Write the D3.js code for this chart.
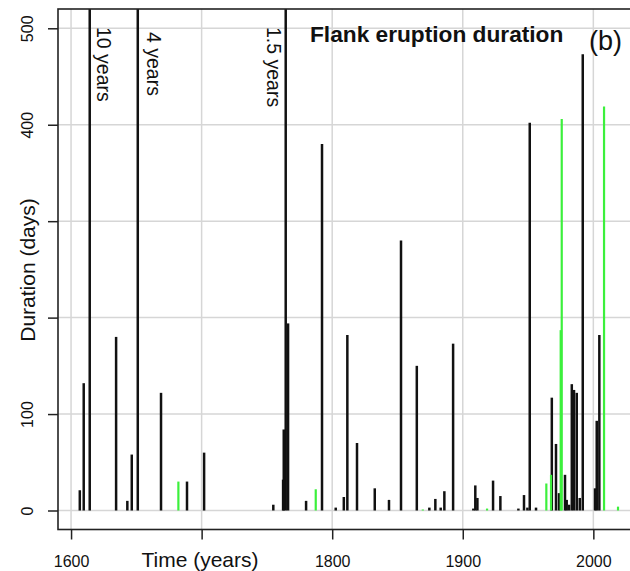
<!DOCTYPE html>
<html><head><meta charset="utf-8">
<script src="https://cdn.jsdelivr.net/npm/d3@7"></script>
<style>
html,body{margin:0;padding:0;background:#fff;}
svg{display:block;font-family:"Liberation Sans",Arial,sans-serif;}
</style></head>
<body><svg id="chart" width="630" height="571"></svg>
<script>
// ---- data ----
const blackYears = [1606.7,1609.7,1634.5,1643.1,1646.5,1668.9,1688.8,1701.9,1754.9,1762.4,1762.9,1766.2,1780,1792.2,1802.7,1808.9,1811.6,1819,1832.6,1843.5,1852.7,1864.8,1874.4,1879,1883.1,1885.9,1892.6,1908.1,1909.6,1911.2,1923.2,1928.8,1942.6,1946.9,1949.5,1951.3,1956.1,1968.2,1971.4,1973.7,1978.3,1979.6,1981.4,1983.5,1985.2,1987.3,1989.6,1991.9,2001.3,2002.6,2004.6];
const blackDays  = [21,132,180,10,58,122,30,60,6,32,84,194,10,380,3,14,182,70,23,11,280,150,3,12,3,20,173,2,26,13,31,15,2,16,3,402,3,117,69,18,37,11,6,131,125,122,13,473,23,93,182];
const greenYears = [1682.2,1787.4,1869.4,1918.6,1964,1967.6,1975,1975.8,2008.2,2018.9];
const greenDays  = [30,22,1,2,28,37,187,406,419,4];
const longYears  = [1614.3,1651.1,1764.4];
const longDays   = [3650,1461,548];
const longLabels = ["10 years","4 years","1.5 years"];
const xTickValues = [1600,1700,1800,1900,2000];
const xTickLabels = ["1600","","1800","1900","2000"];
const yTickValues = [0,100,200,300,400,500];
const yTickLabels = ["0","100","","","400","500"];
const title = "Flank eruption duration";
const panel = "(b)";
const xTitle = "Time (years)";
const yTitle = "Duration (days)";

// ---- layout ----
const svg = d3.select("#chart");
const L = 58, R = 634, T = 9, B = 529.5;
const x = d3.scaleLinear().domain([1590, 2030]).range([L, L + (2030-1590)*1.3057]);
const y = d3.scaleLinear().domain([-19.7, 520]).range([B, T]);

// grid
const grid = svg.append("g").attr("stroke","#d6d6d6").attr("stroke-width",1.5);
grid.selectAll(".gx").data(xTickValues).join("line")
  .attr("x1",d=>x(d)).attr("x2",d=>x(d)).attr("y1",T).attr("y2",B);
grid.selectAll(".gy").data(yTickValues).join("line")
  .attr("x1",L).attr("x2",R).attr("y1",d=>y(d)).attr("y2",d=>y(d));

// clip
svg.append("clipPath").attr("id","clip").append("rect")
  .attr("x",L).attr("y",T).attr("width",R-L).attr("height",B-T);
const plot = svg.append("g").attr("clip-path","url(#clip)");

plot.selectAll(".lb").data(longYears.map((d,i)=>({yr:d,v:longDays[i]}))).join("line")
  .attr("x1",d=>x(d.yr)).attr("x2",d=>x(d.yr)).attr("y1",y(0)).attr("y2",d=>y(d.v))
  .attr("stroke","#111").attr("stroke-width",2.5);
plot.selectAll(".bb").data(blackYears.map((d,i)=>({yr:d,v:blackDays[i]}))).join("line")
  .attr("x1",d=>x(d.yr)).attr("x2",d=>x(d.yr)).attr("y1",y(0)).attr("y2",d=>y(d.v))
  .attr("stroke","#111").attr("stroke-width",2.5);
plot.selectAll(".gb").data(greenYears.map((d,i)=>({yr:d,v:greenDays[i]}))).join("line")
  .attr("x1",d=>x(d.yr)).attr("x2",d=>x(d.yr)).attr("y1",y(0)).attr("y2",d=>y(d.v))
  .attr("stroke","#3cf03c").attr("stroke-width",2.2);

// long-duration labels
const labelOffset = [7.3, 9.5, -18.5];
const labelTop = [27, 32, 27];
svg.selectAll(".ll").data(longLabels).join("text")
  .attr("transform",(d,i)=>`translate(${x(longYears[i])+labelOffset[i]},${labelTop[i]}) rotate(90)`)
  .attr("font-size",19.5).attr("fill","#111").text(d=>d);

// frame
svg.append("rect").attr("x",L).attr("y",T).attr("width",R-L).attr("height",B-T)
  .attr("fill","none").attr("stroke","#222").attr("stroke-width",1.6);

// x axis
const xAxis = svg.append("g").attr("transform",`translate(0,${B})`)
  .call(d3.axisBottom(x).tickValues(xTickValues).tickSize(10).tickPadding(12)
    .tickFormat((d,i)=>xTickLabels[i]));
xAxis.select(".domain").remove();
xAxis.selectAll("line").attr("stroke","#222").attr("stroke-width",1.5);
xAxis.selectAll("text").attr("font-size",16).attr("fill","#111")
  .attr("font-family","Liberation Sans, Arial, sans-serif").attr("dy",null).attr("y",37.5);

// y axis
const yAxis = svg.append("g").attr("transform",`translate(${L},0)`)
  .call(d3.axisLeft(y).tickValues(yTickValues).tickSize(10)
    .tickFormat((d,i)=>yTickLabels[i]));
yAxis.select(".domain").remove();
yAxis.selectAll("line").attr("stroke","#222").attr("stroke-width",1.5);
yAxis.selectAll("text").attr("font-size",16).attr("fill","#111")
  .attr("font-family","Liberation Sans, Arial, sans-serif")
  .attr("x",null).attr("dy",null).attr("text-anchor","middle")
  .attr("transform","translate(-25,0) rotate(-90)");

// titles
svg.append("text").attr("x",310).attr("y",41.5).attr("font-size",22.7).attr("font-weight","bold")
  .attr("fill","#111").text(title);
svg.append("text").attr("x",589).attr("y",50).attr("font-size",27).attr("fill","#111").text(panel);
svg.append("text").attr("x",200).attr("y",567).attr("text-anchor","middle").attr("font-size",21)
  .attr("fill","#111").text(xTitle);
svg.append("text").attr("transform","translate(35,270) rotate(-90)").attr("text-anchor","middle")
  .attr("font-size",21).attr("fill","#111").text(yTitle);
</script></body></html>
